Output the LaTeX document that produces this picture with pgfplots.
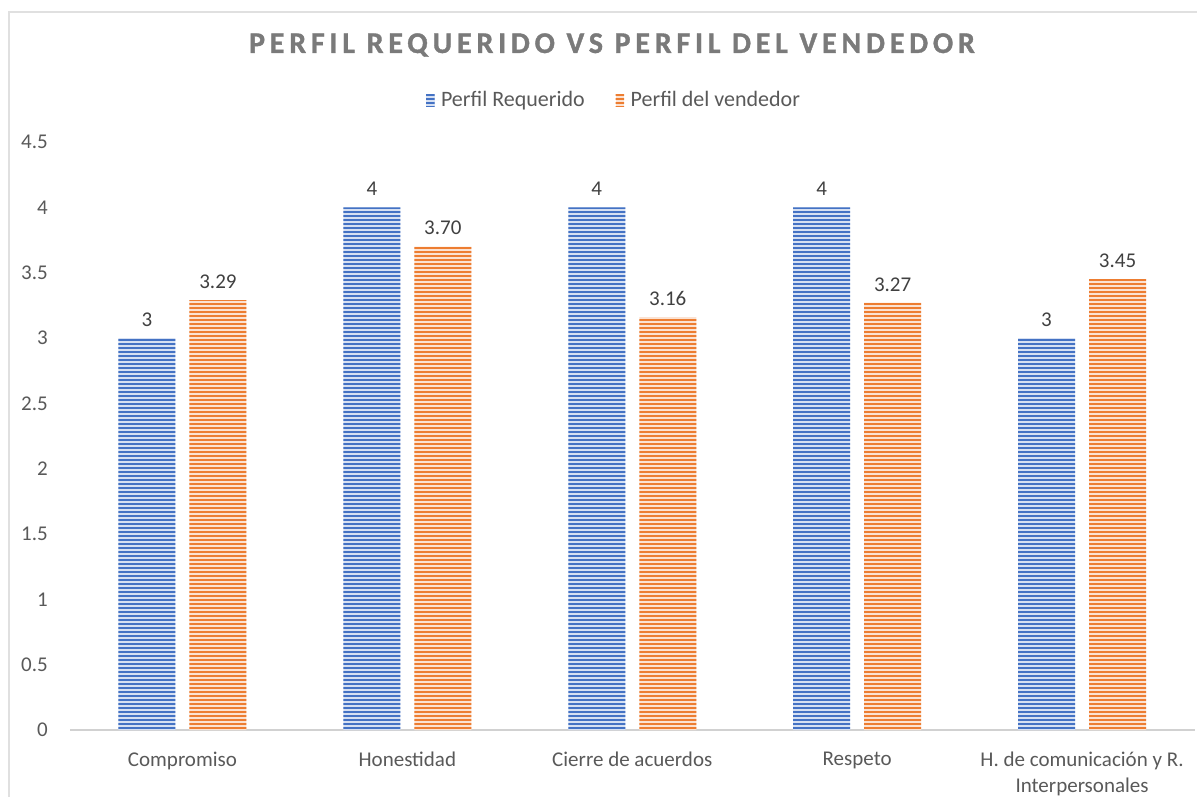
\documentclass[border=0pt]{standalone}
\usepackage{pgfplots}
\pgfplotsset{compat=1.18}
\usepackage{fontspec}
\setmainfont{Carlito}
\usetikzlibrary{patterns}
\definecolor{cblue}{HTML}{4472C4}
\definecolor{corange}{HTML}{ED7D31}
\definecolor{txt}{HTML}{595959}
\definecolor{ttl}{HTML}{7A7A7A}
\pgfdeclarepatternformonly{hstripes}{\pgfpointorigin}{\pgfpoint{1200pt}{4pt}}{\pgfpoint{1200pt}{4pt}}%
  {\pgfpathrectangle{\pgfpoint{-2pt}{0pt}}{\pgfpoint{1204pt}{2.2pt}}\pgfusepath{fill}}
\pgfplotsset{barleg/.style={legend image code/.code={\draw[##1,draw=none] (0pt,-6.5pt) rectangle (8.5pt,6.5pt); \path (0pt,0pt) -- (13pt,0pt);}}}
\begin{document}
\begin{tikzpicture}[x=1pt,y=1pt]
\useasboundingbox (0,0) rectangle (1197,796);
\draw[black!12, line width=1.5pt] (9,-20) -- (9,784) -- (1220,784);
\node[font=\fontsize{30}{34}\selectfont\bfseries\addfontfeature{LetterSpace=16,FakeBold=1.2}, text=ttl] at (612,751) {PERFIL REQUERIDO VS PERFIL DEL VENDEDOR};
\begin{axis}[
  at={(70pt,66pt)}, anchor=south west,
  scale only axis, width=1124.5pt, height=588pt,
  ymin=0, ymax=4.5, xmin=-0.5, xmax=4.5,
  axis lines=left,
  y axis line style={draw=none},
  x axis line style={draw=black!18, line width=1.8pt, -},
  major tick length=0pt,
  ytick={0,0.5,1,1.5,2,2.5,3,3.5,4,4.5},
  yticklabel style={font=\fontsize{21}{25}\selectfont, text=txt, inner sep=0pt, xshift=-22pt, /pgf/number format/assume math mode=true},
  xtick={0,1,2,3,4},
  xticklabels={Compromiso, Honestidad, Cierre de acuerdos, Respeto, {H. de comunicación y R.\\Interpersonales}},
  xticklabel style={font=\fontsize{21}{26}\selectfont, text=txt, align=center, inner sep=0pt, yshift=-22pt},
  ybar, bar width=57pt,
  nodes near coords,
  every node near coord/.append style={font=\fontsize{21}{25}\selectfont, text=black!75, yshift=8pt, /pgf/number format/assume math mode=true},
  legend style={at={(0.4838,1.0714)}, anchor=center, draw=none, fill=none, legend columns=-1,
    font=\fontsize{22}{26}\selectfont, text=txt,
    /tikz/every even column/.append style={column sep=29pt}},
  legend cell align=left,
]
\addplot[ybar, bar shift=-35.5pt, draw=none, fill=cblue!22!white,
  postaction={pattern=hstripes, pattern color=cblue},
  barleg]
  coordinates {(0,3) (1,4) (2,4) (3,4) (4,3)};
\addlegendentry{Perfil Requerido}
\addplot[ybar, bar shift=35.5pt, draw=none, fill=corange!22!white,
  postaction={pattern=hstripes, pattern color=corange},
  barleg,
  nodes near coords={\pgfmathprintnumber[fixed,precision=2,fixed zerofill]{\pgfplotspointmeta}}]
  coordinates {(0,3.29) (1,3.70) (2,3.16) (3,3.27) (4,3.45)};
\addlegendentry{Perfil del vendedor}
\end{axis}
\end{tikzpicture}
\end{document}
